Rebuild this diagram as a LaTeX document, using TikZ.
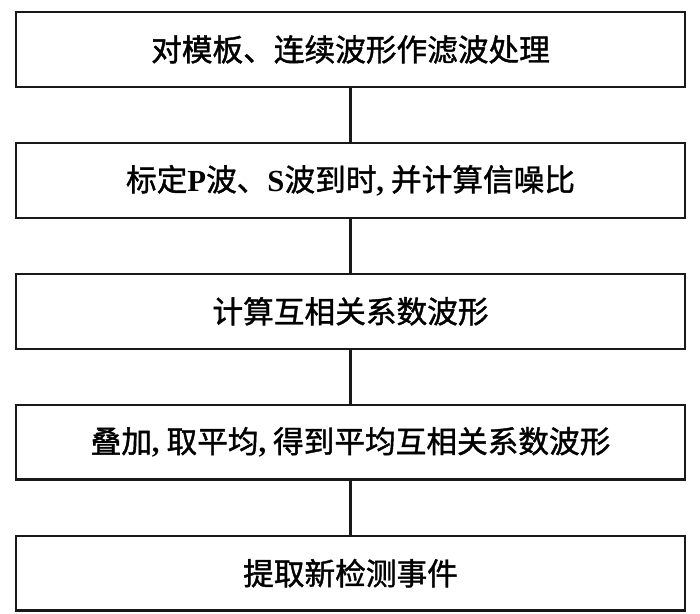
\documentclass[tikz,border=0pt]{standalone}
\usepackage{fontspec}
\setmainfont{Liberation Serif}
\newfontfamily\cjk[FakeBold=1.3]{Noto Sans CJK SC}
\usetikzlibrary{positioning}
\tikzset{%
	stage/.style={draw=black!90, line width=1.7pt, rectangle, minimum width=501.5pt,%
		minimum height=56pt, inner sep=0pt, node distance=40.5pt, font=\cjk\fontsize{23pt}{27pt}\selectfont},
	connector/.style={draw=black!90, line width=1.7pt}
}
\newcommand{\lat}[1]{{\rmfamily\bfseries #1}}

\begin{document}
\begin{tikzpicture}
	\useasboundingbox (0pt,0pt) rectangle (525pt,-460.5pt);
	\node[stage] (filter) at (262.9pt,-37.1pt) {对模板、连续波形作滤波处理};
	\node[stage, below=of filter] (pick) {标定\lat{P}波、\lat{S}波到时\lat{,} 并计算信噪比};
	\node[stage, below=of pick] (corr) {计算互相关系数波形};
	\node[stage, below=of corr] (stack) {叠加\lat{,} 取平均\lat{,} 得到平均互相关系数波形};
	\node[stage, below=of stack] (detect) {提取新检测事件};

	\draw[connector] (filter) to (pick);
	\draw[connector] (pick) to (corr);
	\draw[connector] (corr) to (stack);
	\draw[connector] (stack) to (detect);
\end{tikzpicture}
\end{document}
